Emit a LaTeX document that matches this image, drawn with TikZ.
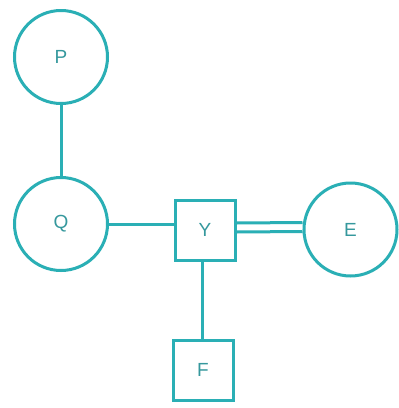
\documentclass[tikz,border=0pt]{standalone}
\usepackage{fontspec}
\setmainfont{Liberation Sans}
\definecolor{tealline}{HTML}{2AAFB5}
\definecolor{tealtext}{HTML}{35989D}
\begin{document}
\begin{tikzpicture}[x=1pt,y=-1pt,
  ent/.style={circle,draw=tealline,line width=3pt,minimum size=93pt,inner sep=0pt,text=tealtext,font=\fontsize{19}{19}\selectfont},
  boxnode/.style={rectangle,draw=tealline,line width=3pt,minimum size=60pt,inner sep=0pt,text=tealtext,font=\fontsize{19}{19}\selectfont},
  link/.style={draw=tealline,line width=3pt}]
\useasboundingbox[fill=white] (0,0) rectangle (399,408);
\node[ent] (P) at (61,57) {P};
\node[ent] (Q) at (61,224) {Q};
\node[boxnode] (Y) at (205,230) {Y};
\node[ent] (E) at (350.5,229.5) {E};
\node[boxnode] (F) at (203,370) {F};
\draw[link] (P.south) -- (Q.north);
\draw[link] (Q.east) -- (Y.west |- Q.east);
\draw[link] ([yshift=7pt]Y.east) -- ([yshift=7pt]E.west);
\draw[link] ([yshift=-2pt]Y.east) -- ([yshift=-2pt]E.west);
\draw[link] ([xshift=-3pt]Y.south) -- ([xshift=-1pt]F.north);
\end{tikzpicture}
\end{document}
